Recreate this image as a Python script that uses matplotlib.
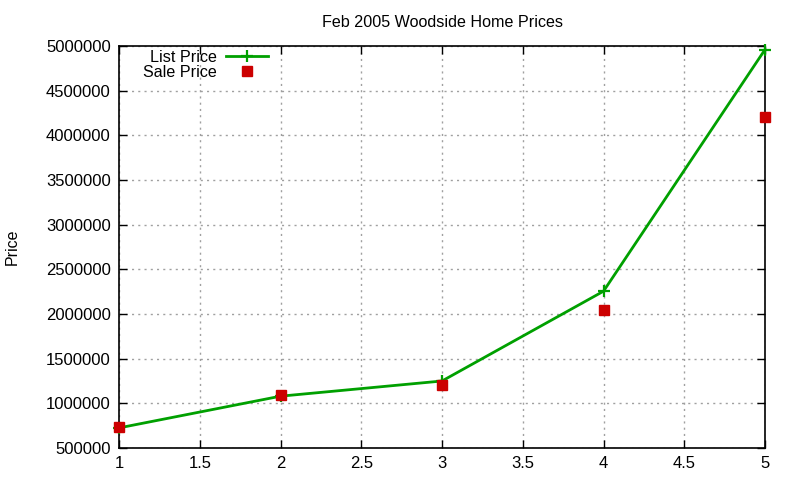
import matplotlib
matplotlib.use('Agg')
import matplotlib.pyplot as plt

plt.rcParams['font.family'] = ['Liberation Sans', 'DejaVu Sans']

# données
houses = [1, 2, 3, 4, 5]
list_price = [725000, 1080000, 1250000, 2255000, 4960000]
sale_price = [735000, 1090000, 1200000, 2050000, 4200000]

fig = plt.figure(figsize=(8, 4.8), dpi=100)
ax = fig.add_axes([119 / 800, 1 - 448 / 480, (765 - 119) / 800, (448 - 46) / 480])

ax.plot(houses, list_price, color='#00a000', lw=2, marker='+', ms=8, mew=1.6,
        label='List Price', clip_on=False, zorder=3)
ax.plot(houses, sale_price, ls='none', color='#cc0000', marker='s', ms=6.5,
        label='Sale Price', clip_on=False, zorder=4)

ax.set_xlim(1, 5)
ax.set_ylim(500000, 5000000)
ax.set_xticks([1, 1.5, 2, 2.5, 3, 3.5, 4, 4.5, 5])
ax.set_xticklabels(['1', '1.5', '2', '2.5', '3', '3.5', '4', '4.5', '5'])
ax.set_yticks(range(500000, 5000001, 500000))
ax.set_yticklabels([str(v) for v in range(500000, 5000001, 500000)])

ax.grid(True, color='#a0a0a0', ls=(0, (1.5, 3)), lw=1)
ax.tick_params(direction='in', length=6, width=1, top=True, right=True,
               labelsize=12, colors='black', pad=6)
for s in ax.spines.values():
    s.set_linewidth(1.2)
    s.set_zorder(2.5)

ax.set_title('Feb 2005 Woodside Home Prices', fontsize=11.6, pad=14)
fig.text(12 / 800, 1 - 247 / 480, 'Price', rotation=90, fontsize=11.5,
         ha='center', va='center')

leg = ax.legend(loc='upper left', bbox_to_anchor=(0.027, 1.006), frameon=False,
                markerfirst=False, fontsize=11.6, handlelength=2.6,
                labelspacing=0.0, handletextpad=0.6, borderaxespad=0.0)

fig.savefig('out.png', dpi=100)
